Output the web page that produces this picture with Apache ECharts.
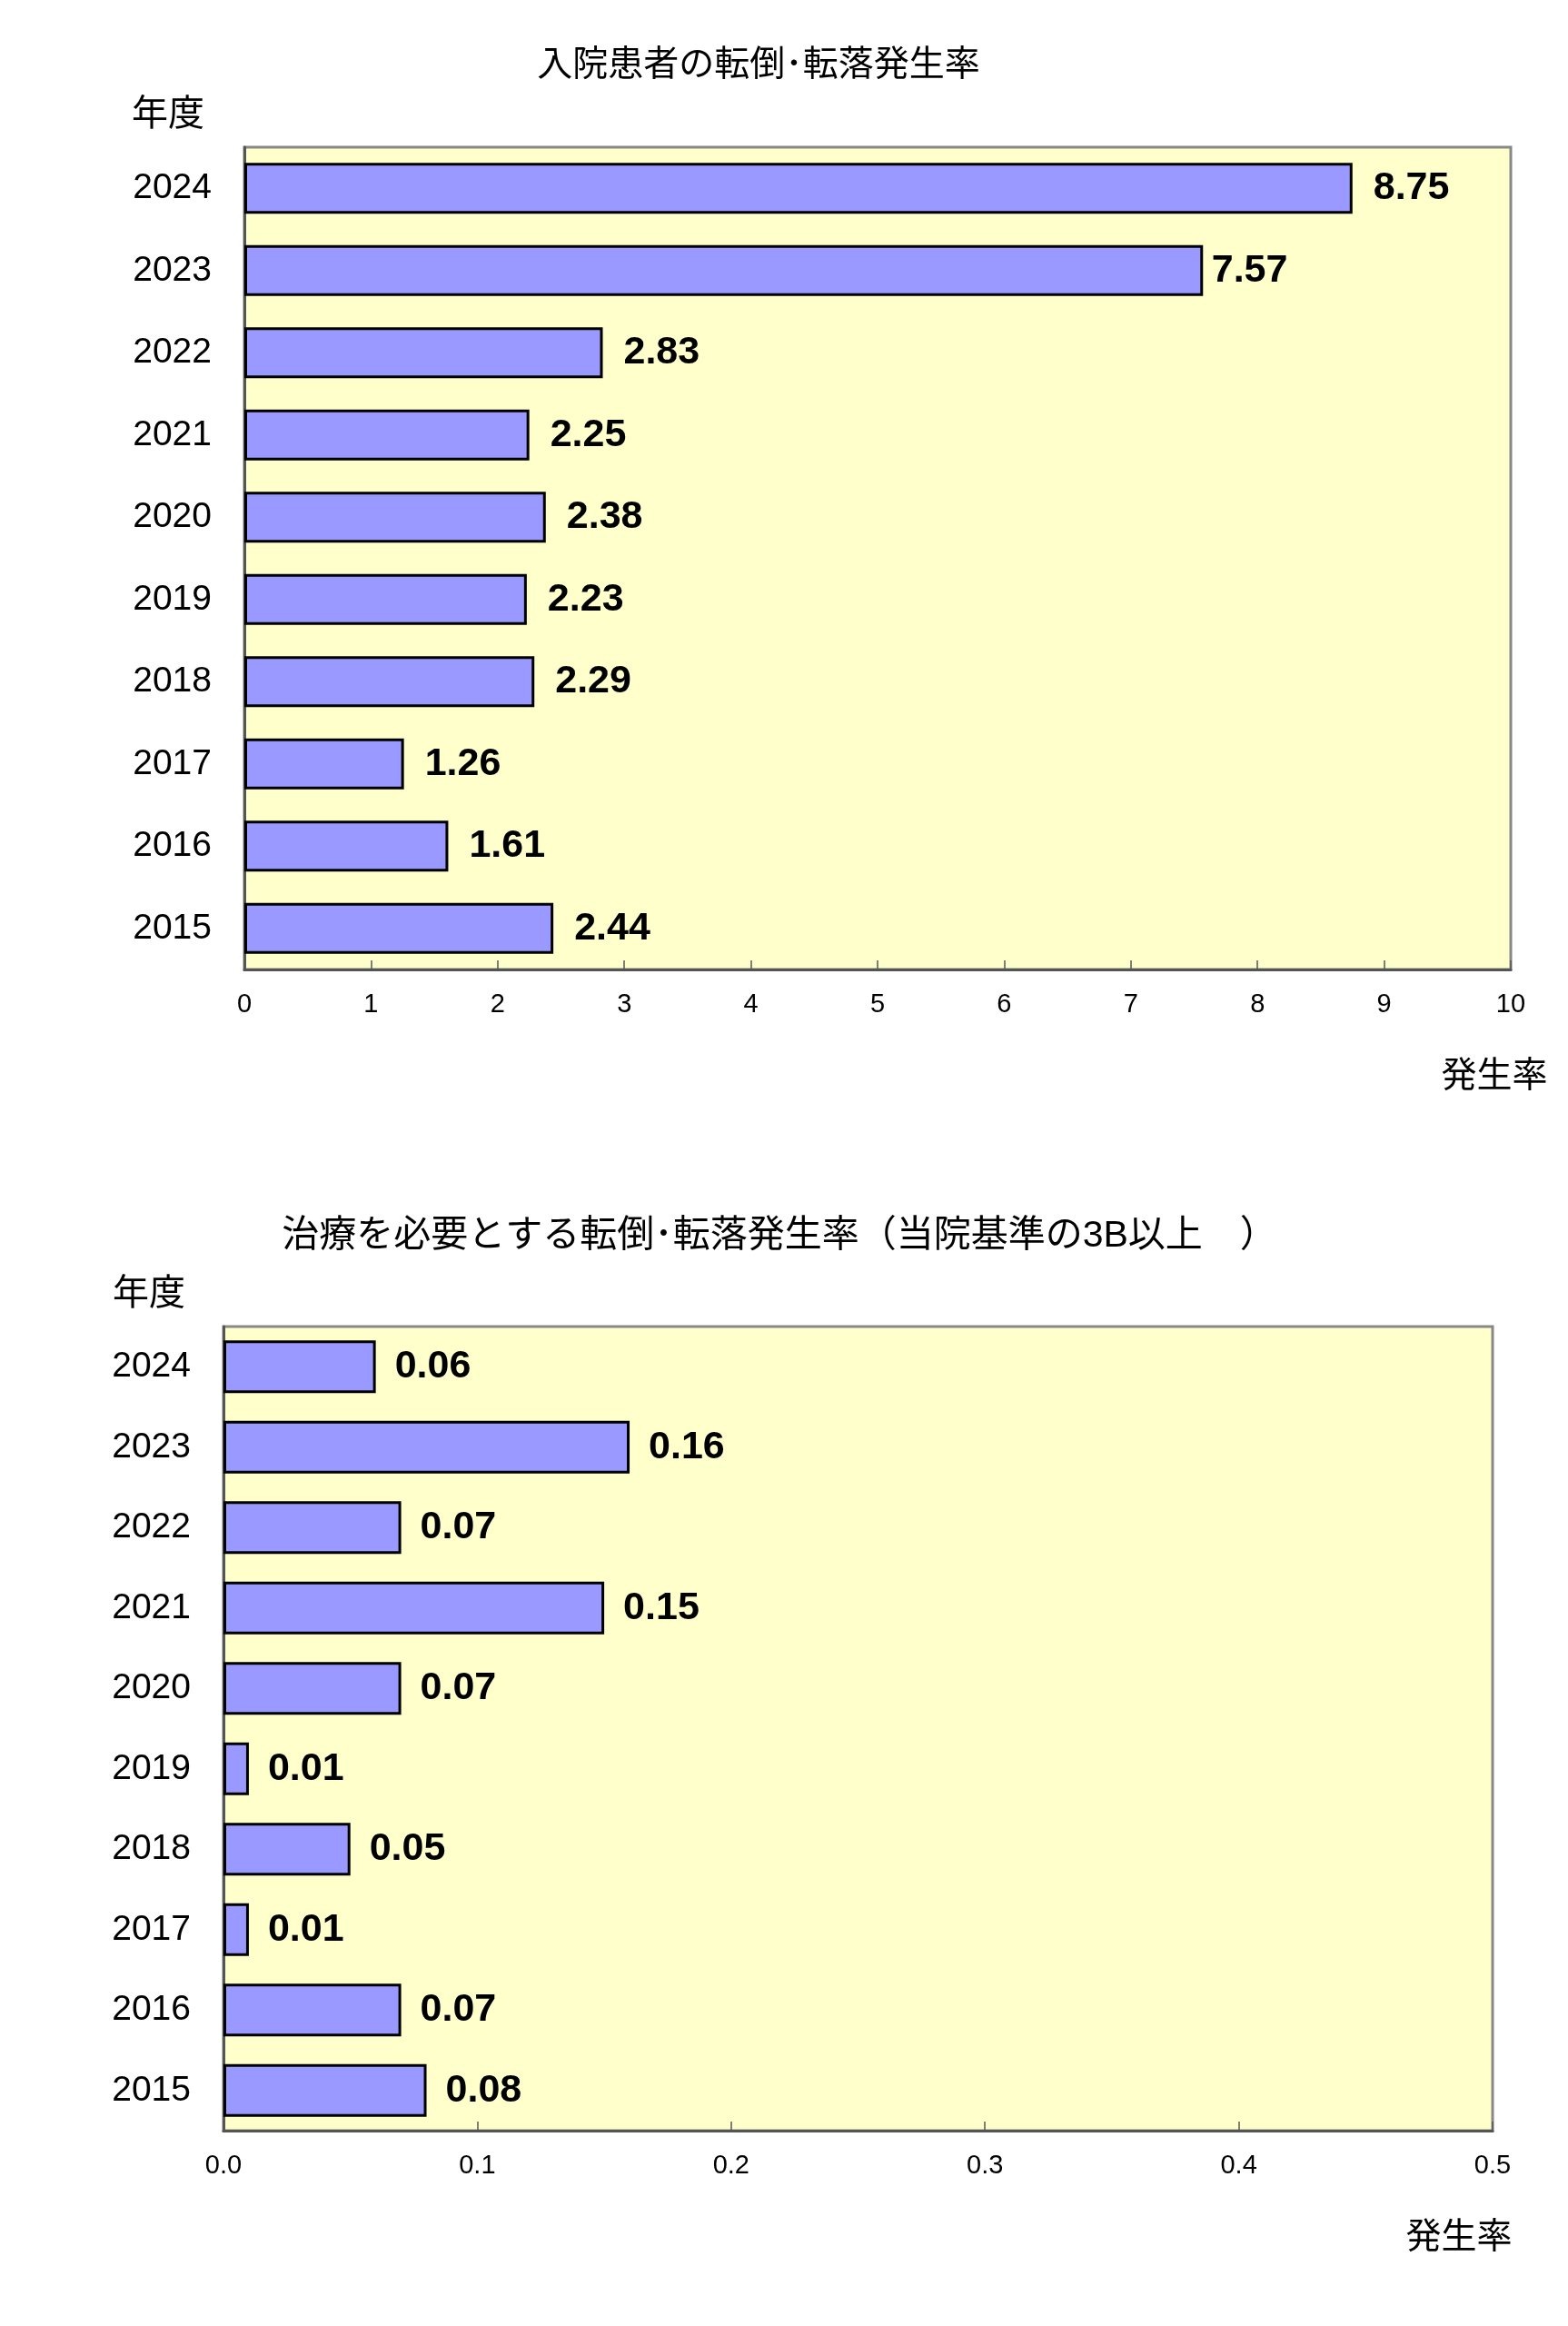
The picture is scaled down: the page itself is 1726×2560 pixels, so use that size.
<!DOCTYPE html>
<html>
<head>
<meta charset="utf-8">
<script src="https://cdn.jsdelivr.net/npm/echarts@6/dist/echarts.min.js"></script>
<style>
  html, body { margin: 0; padding: 0; background: #fff; }
  #chart { width: 1726px; height: 2560px; }
</style>
</head>
<body>
<div id="chart"></div>
<script>
// ---- data ----
const years = ['2015', '2016', '2017', '2018', '2019', '2020', '2021', '2022', '2023', '2024'];
const fallRate = [2.44, 1.61, 1.26, 2.29, 2.23, 2.38, 2.25, 2.83, 7.57, 8.75];
const injuryRate = [0.08, 0.07, 0.01, 0.05, 0.01, 0.07, 0.15, 0.07, 0.16, 0.06];
const title1 = '入院患者の転倒･転落発生率';
const title2 = '治療を必要とする転倒･転落発生率（当院基準の3B以上　）';
const yName = '年度';
const xName = '発生率';
const xTicks1 = { min: 0, max: 10, interval: 1 };
const xTicks2 = { min: 0, max: 0.5, interval: 0.1 };

const FONT = '"Liberation Sans", "Noto Sans CJK JP", sans-serif';

const chart = echarts.init(document.getElementById('chart'), null, { renderer: 'canvas' });

function gridCfg(left, top, width, height) {
  return {
    left, top, width, height,
    show: true,
    backgroundColor: '#FFFFCC',
    borderColor: '#888888',
    borderWidth: 3,
    containLabel: false
  };
}

function xAxisCfg(idx, ticks, nameGap, fmt) {
  return {
    gridIndex: idx,
    type: 'value',
    min: ticks.min,
    max: ticks.max,
    interval: ticks.interval,
    axisLine: { show: true, lineStyle: { color: '#555555', width: 3 } },
    axisTick: { show: true, inside: true, length: 10, lineStyle: { color: '#555555', width: 1.5 } },
    axisLabel: { fontSize: 29, margin: 24, color: '#000', fontFamily: FONT, formatter: fmt },
    splitLine: { show: false },
    name: xName,
    nameLocation: 'end',
    nameGap: nameGap,
    nameTextStyle: {
      fontSize: 39, color: '#000', fontFamily: FONT,
      align: 'center', verticalAlign: 'top', padding: [99, 0, 0, 0]
    }
  };
}

function yAxisCfg(idx, padRight) {
  return {
    gridIndex: idx,
    type: 'category',
    data: years,
    axisLine: { show: true, lineStyle: { color: '#555555', width: 3 } },
    axisTick: { show: false },
    axisLabel: { fontSize: 39, margin: 36, color: '#000', fontFamily: FONT },
    name: yName,
    nameLocation: 'end',
    nameGap: 15,
    nameTextStyle: {
      fontSize: 40, color: '#000', fontFamily: FONT,
      align: 'right', padding: [0, padRight, 0, 0]
    }
  };
}

function barSeries(idx, values, barWidth, dist, overrides) {
  return {
    type: 'bar',
    xAxisIndex: idx,
    yAxisIndex: idx,
    barWidth: barWidth,
    data: values.map((v, i) => overrides && overrides[i] !== undefined
      ? { value: v, label: { distance: overrides[i] } }
      : v),
    itemStyle: { color: '#9999FF', borderColor: '#000000', borderWidth: 3 },
    label: {
      show: true,
      position: 'right',
      distance: dist,
      fontSize: 43,
      fontWeight: 'bold',
      color: '#000',
      fontFamily: FONT,
      formatter: p => Number(p.value).toFixed(2)
    },
    animation: false
  };
}

const option = {
  animation: false,
  textStyle: { fontFamily: FONT },
  title: [
    { text: title1, left: 830, top: 48, textAlign: 'center',
      textStyle: { fontSize: 39, fontWeight: 'normal', color: '#000', fontFamily: FONT } },
    { text: title2, left: 853, top: 1335, textAlign: 'center',
      textStyle: { fontSize: 41, fontWeight: 'normal', color: '#000', fontFamily: FONT } }
  ],
  grid: [
    gridCfg(269, 162, 1394, 905),
    gridCfg(246, 1460, 1397, 885)
  ],
  xAxis: [
    xAxisCfg(0, xTicks1, -18, v => String(v)),
    xAxisCfg(1, xTicks2, -37, v => Number(v).toFixed(1))
  ],
  yAxis: [
    yAxisCfg(0, 44),
    yAxisCfg(1, 42)
  ],
  series: [
    barSeries(0, fallRate, 56, 23, { 8: 9.5 }),
    barSeries(1, injuryRate, 58, 21, null)
  ]
};

chart.setOption(option);
</script>
</body>
</html>
